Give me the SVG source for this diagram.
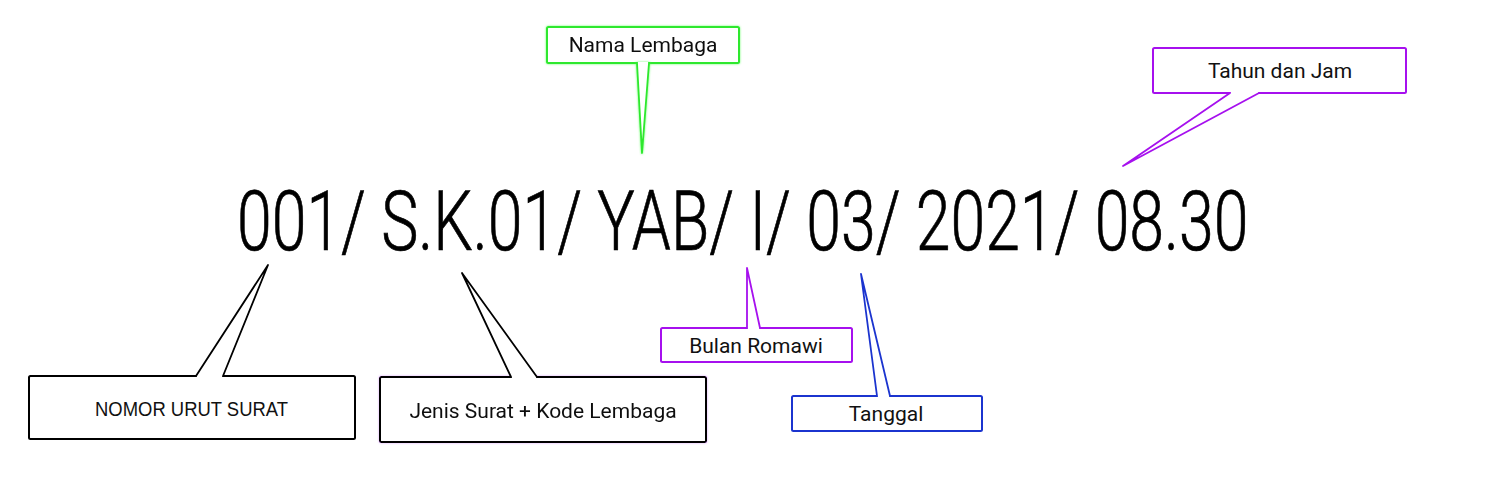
<svg xmlns="http://www.w3.org/2000/svg" width="1500" height="500" viewBox="0 0 1500 500">
<style>
.box{fill:#fff;stroke-width:2;stroke-linejoin:round}
.tail{fill:#fff;stroke-width:1.8;stroke-linejoin:round}
.k{stroke:#000}
.g{stroke:#2ee82e}
.p{stroke:#a610ee}
.b{stroke:#1b34cf}
.lbl{font-family:Roboto,"Noto Sans",sans-serif;font-size:21px;fill:#111;text-anchor:middle}
.main{font-family:Roboto,"Noto Sans",sans-serif;font-size:84px;font-weight:300;fill:#000;stroke:#000;stroke-width:0.7}
</style>
<defs>
<filter id="glowG" x="-20%" y="-20%" width="140%" height="140%">
<feDropShadow dx="0" dy="0" stdDeviation="1.3" flood-color="#4cff4c" flood-opacity="0.8"/>
</filter>
<filter id="glowP" x="-20%" y="-20%" width="140%" height="140%">
<feDropShadow dx="0" dy="0" stdDeviation="1.3" flood-color="#c050ff" flood-opacity="0.5"/>
</filter>
</defs>
<rect width="1500" height="500" fill="#fff"/>
<text class="main" transform="translate(237,250) scale(0.745,1)" x="0" y="0">001/ S.K.01/ YAB/ I/ 03/ 2021/ 08.30</text>
<g id="node-nomor">
<rect class="box k" x="29" y="376" width="326" height="63" rx="1.5"/>
<text x="191.5" y="416" font-family="'Liberation Sans',Arial,sans-serif" font-size="20" fill="#111" text-anchor="middle" textLength="193" lengthAdjust="spacingAndGlyphs">NOMOR URUT SURAT</text>
</g>
<g id="node-jenis" filter="url(#glowP)">
<rect class="box k" x="380" y="377" width="326" height="65" rx="1.5"/>
<text class="lbl" x="543" y="418">Jenis Surat + Kode Lembaga</text>
</g>
<g id="node-nama" filter="url(#glowG)">
<rect class="box g" x="547" y="27" width="192" height="36" rx="1.5"/>
<text class="lbl" x="643" y="52">Nama Lembaga</text>
</g>
<g id="node-bulan">
<rect class="box p" x="661" y="328" width="191" height="34" rx="1.5"/>
<text class="lbl" x="756" y="353">Bulan Romawi</text>
</g>
<g id="node-tanggal">
<rect class="box b" x="792" y="396" width="190" height="35" rx="1.5"/>
<text class="lbl" x="886" y="421">Tanggal</text>
</g>
<g id="node-tahun">
<rect class="box p" x="1153" y="48" width="253" height="45" rx="1.5"/>
<text class="lbl" x="1280" y="78">Tahun dan Jam</text>
</g>
<g id="connectors">
<path class="tail k" d="M196,377 L196,376 L268,265 L223,376 L223,377"/>
<path class="tail k" d="M511,378 L511,377 L462,273 L537,377 L537,378"/>
<path class="tail g" filter="url(#glowG)" d="M637,62 L637,63 L642,153 L649,63 L649,62"/>
<path class="tail p" d="M747,329 L747,328 L747,268 L760,328 L760,329"/>
<path class="tail b" d="M877,397 L877,396 L861,274 L890,396 L890,397"/>
<path class="tail p" d="M1230,92 L1230,93 L1123,166 L1259,93 L1259,92"/>
</g>
</svg>
